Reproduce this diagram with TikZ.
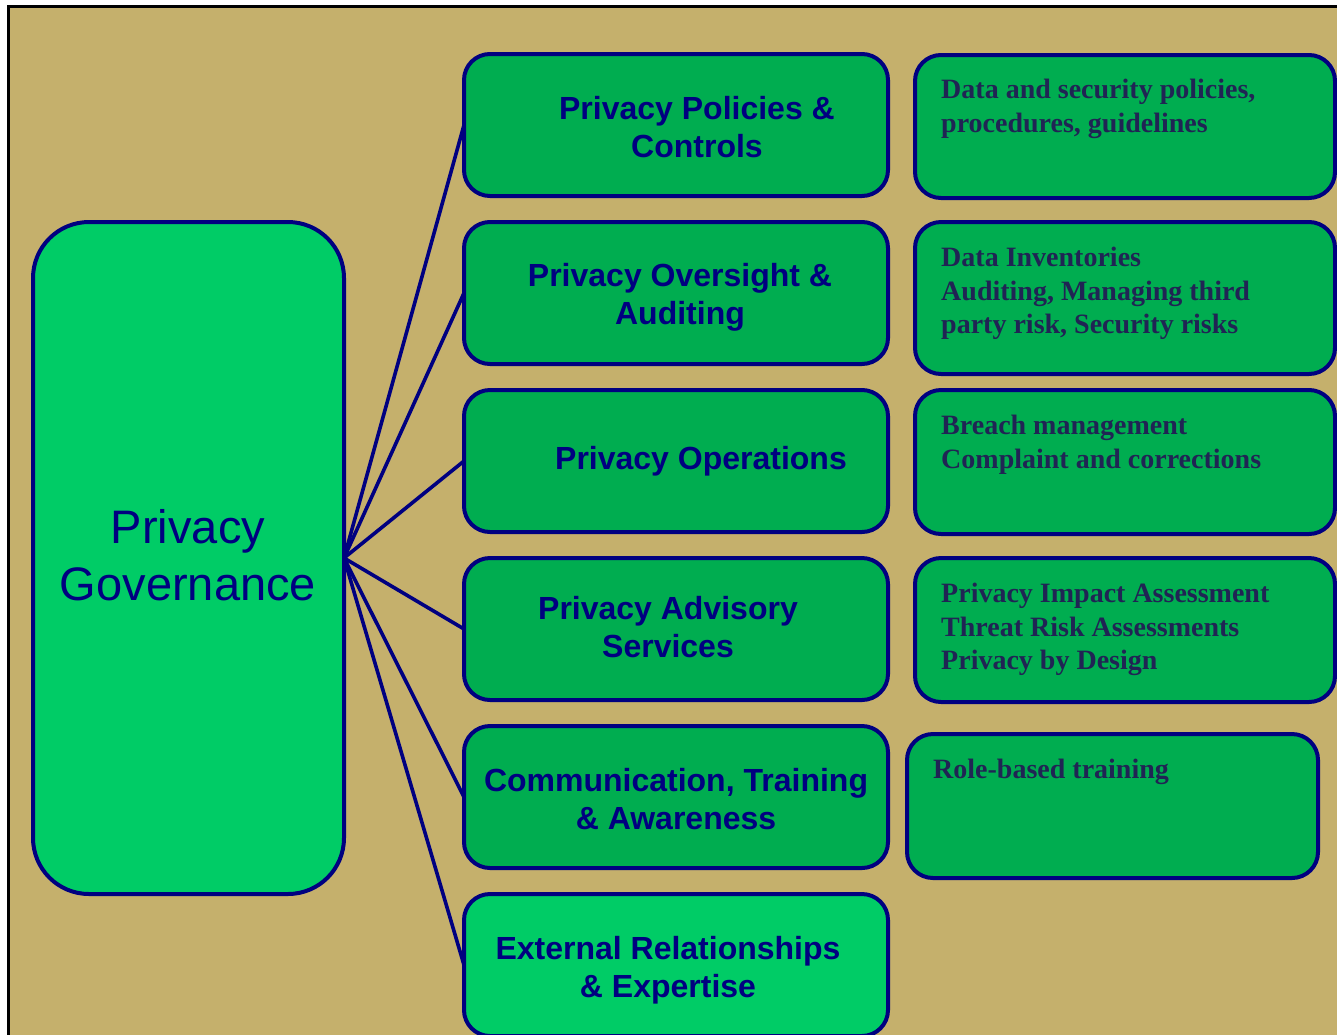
\documentclass[tikz,border=0pt]{standalone}
\usepackage{fontspec}
\setmainfont{Liberation Serif}
\newfontfamily\headfont{Liberation Sans}
\newfontfamily\notefont{Liberation Serif}
\definecolor{paper}{RGB}{197,176,108}
\definecolor{deepgreen}{RGB}{0,173,80}
\definecolor{brightgreen}{RGB}{0,204,102}
\definecolor{navy}{RGB}{0,0,128}
\definecolor{inkblue}{RGB}{32,36,84}
\tikzset{
  box/.style={draw=navy, line width=4pt, rounded corners=26pt, inner sep=0pt, outer sep=0pt},
  midbox/.style={box, fill=deepgreen, minimum width=424pt, minimum height=142pt},
  notebox/.style={box, fill=deepgreen, minimum width=420pt},
  midtext/.style={text=navy, align=center, inner sep=0pt,
    font=\headfont\bfseries\fontsize{32pt}{38pt}\selectfont},
  notetext/.style={text=inkblue, align=left, anchor=north west, inner sep=0pt,
    font=\notefont\bfseries\fontsize{28pt}{33.6pt}\selectfont},
  link/.style={draw=navy, line width=3.6pt}
}
\begin{document}
\begin{tikzpicture}[x=1pt,y=-1pt]
\useasboundingbox (0,0) rectangle (1337,1034);
\clip (0,0) rectangle (1337,1034);
% page ground and frame
\fill[paper] (8,6) rectangle (1345,1045);
\draw[black, line width=3pt] (8,1045) -- (8,6) -- (1345,6);

% root
\node[box, fill=brightgreen, rounded corners=56pt, minimum width=311pt, minimum height=672pt]
  (root) at (188.5,558) {};
\node[text=navy, align=center, inner sep=0pt, font=\headfont\fontsize{47pt}{57pt}\selectfont]
  (roottext) at (188,555) {Privacy\\Governance};

% middle column
\node[midbox] (m1) at (676,125) {};
\node[midbox] (m2) at (676,293) {};
\node[midbox] (m3) at (676,461) {};
\node[midbox] (m4) at (676,629) {};
\node[midbox] (m5) at (676,797) {};
\node[midbox, fill=brightgreen] (m6) at (676,965) {};

\node[midtext] (t1) at (697,127) {Privacy Policies \&\\Controls};
\node[midtext] (t2) at (680,297) {Privacy Oversight \&\\Auditing};
\node[midtext] (t3) at (701,461) {Privacy Operations};
\node[midtext] (t4) at (668,627) {Privacy Advisory\\Services};
\node[midtext] (t5) at (676,799) {Communication, Training\\\& Awareness};
\node[midtext] (t6) at (668,970) {External Relationships\\\& Expertise};

% right column
\node[notebox, minimum height=143pt] (n1) at (1125,126.5) {};
\node[notebox, minimum height=152pt] (n2) at (1125,298) {};
\node[notebox, minimum height=144pt] (n3) at (1125,462) {};
\node[notebox, minimum height=144pt] (n4) at (1125,630) {};
\node[notebox, minimum width=411pt, minimum height=144pt] (n5) at (1112.5,806) {};

\node[notetext] (d1) at (941,79) {Data and security policies,\\procedures, guidelines};
\node[notetext] (d2) at (941,247) {Data Inventories\\Auditing, Managing third\\party risk, Security risks};
\node[notetext] (d3) at (941,415) {Breach management\\Complaint and corrections};
\node[notetext] (d4) at (941,583) {Privacy Impact Assessment\\Threat Risk Assessments\\Privacy by Design};
\node[notetext] (d5) at (933,759) {Role-based training};

% connectors
\foreach \m in {m1,m2,m3,m4,m5,m6}
  \draw[link] (root.east) -- (\m.west);
\end{tikzpicture}
\end{document}
